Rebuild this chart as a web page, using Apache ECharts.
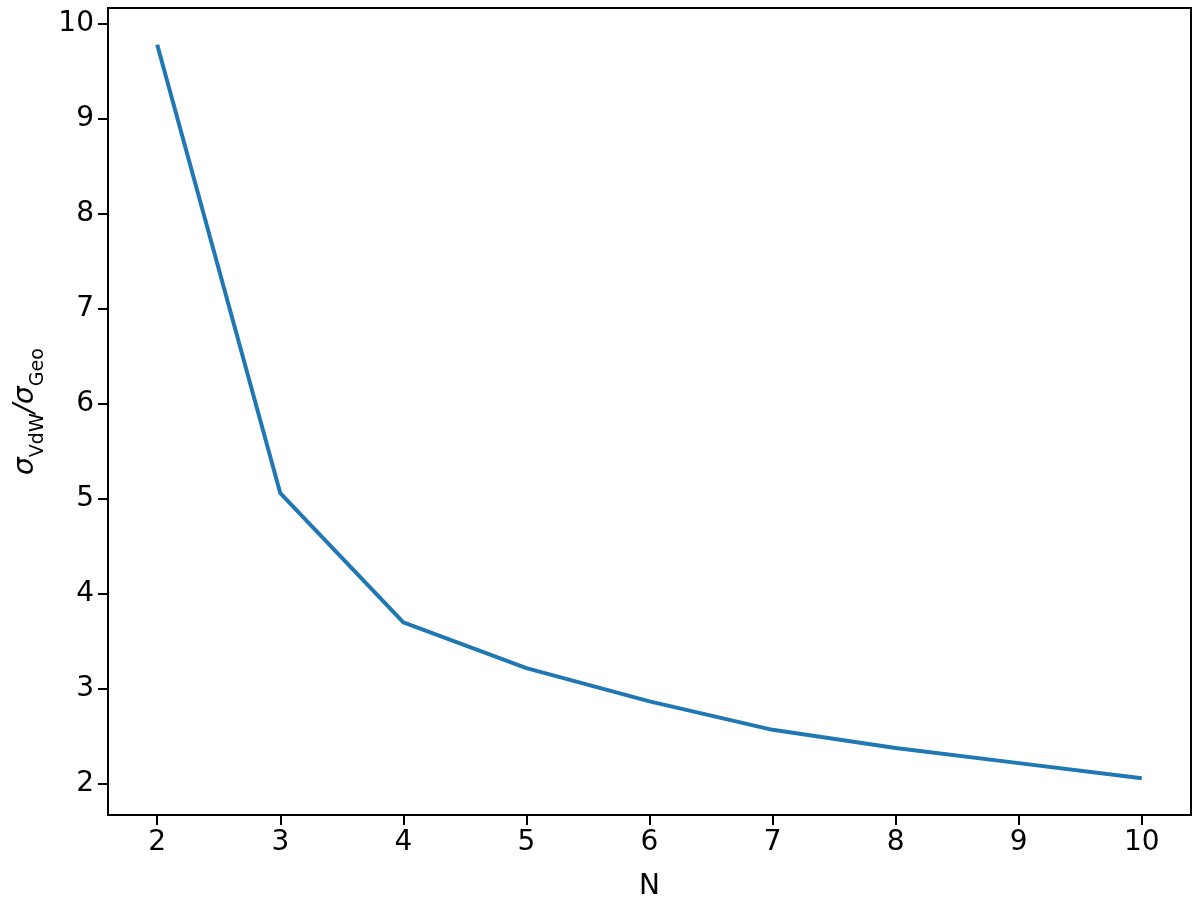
<!DOCTYPE html>
<html><head><meta charset="utf-8">
<script src="https://cdn.jsdelivr.net/npm/echarts@6/dist/echarts.min.js"></script>
<style>html,body{margin:0;padding:0;background:#fff}#c{width:1200px;height:908px}</style>
</head><body><div id="c"></div>
<script>
const nValues = [2, 3, 4, 5, 6, 7, 8, 9, 10];
const ratioValues = [9.78, 5.06, 3.70, 3.22, 2.87, 2.57, 2.38, 2.22, 2.06];
const xLabel = 'N';

const chart = echarts.init(document.getElementById('c'), null, {renderer: 'canvas'});
const font = 'DejaVu Sans';
chart.setOption({
  animation: false,
  backgroundColor: '#fff',
  grid: {left: 108, right: 9, top: 8, bottom: 93, show: true, borderColor: '#000', borderWidth: 2, backgroundColor: 'transparent'},
  xAxis: {
    type: 'value', min: 1.6, max: 10.4, interval: 1,
    name: xLabel, nameLocation: 'middle', nameGap: 58,
    nameTextStyle: {fontFamily: font, fontSize: 28, color: '#000'},
    axisLine: {show: true, onZero: false, lineStyle: {color: '#000', width: 2}},
    axisTick: {show: true, length: 10, lineStyle: {color: '#000', width: 2}, customValues: nValues},
    axisLabel: {fontFamily: font, fontSize: 28, color: '#000', margin: 14, customValues: nValues},
    splitLine: {show: false}
  },
  yAxis: {
    type: 'value', min: 1.674, max: 10.166,
    name: '{s|σ}{sub|VdW}{s|/σ}{sub|Geo}', nameLocation: 'middle', nameGap: 66, nameRotate: 90,
    nameTextStyle: {
      fontFamily: font, color: '#000',
      rich: {
        s: {fontFamily: font, fontSize: 28, fontStyle: 'italic', color: '#000', verticalAlign: 'bottom', lineHeight: 34},
        sub: {fontFamily: font, fontSize: 19, color: '#000', verticalAlign: 'bottom', lineHeight: 34, padding: [0,0,-8,0]}
      }
    },
    axisLine: {show: true, onZero: false, lineStyle: {color: '#000', width: 2}},
    axisTick: {show: true, length: 10, lineStyle: {color: '#000', width: 2}, customValues: [2,3,4,5,6,7,8,9,10]},
    axisLabel: {fontFamily: font, fontSize: 28, color: '#000', margin: 14, customValues: [2,3,4,5,6,7,8,9,10]},
    splitLine: {show: false}
  },
  series: [{
    type: 'line',
    data: nValues.map((n, i) => [n, ratioValues[i]]),
    showSymbol: false, symbol: 'none',
    lineStyle: {color: '#1f77b4', width: 4},
    itemStyle: {color: '#1f77b4'}
  }]
});
</script></body></html>
